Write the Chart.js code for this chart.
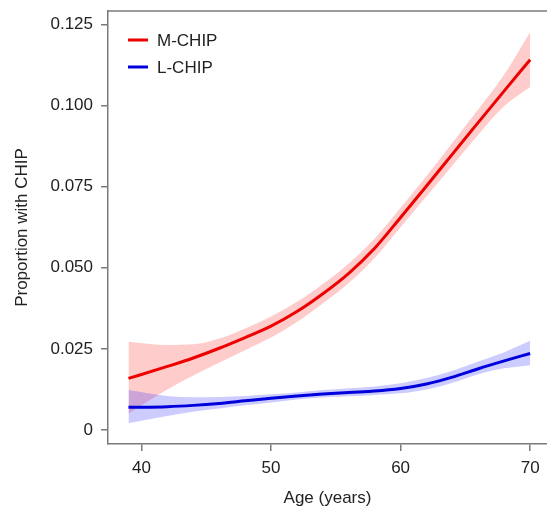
<!DOCTYPE html>
<html>
<head>
<meta charset="utf-8">
<script src="https://cdn.jsdelivr.net/npm/chart.js@4.4.0/dist/chart.umd.min.js"></script>
<style>
html, body { margin: 0; padding: 0; background: #fff; overflow: hidden; }
canvas { display: block; }
</style>
</head>
<body>
<canvas id="chipChart" width="547" height="509"></canvas>
<script>
var ages = [39, 42, 44, 46, 48, 50, 52, 54, 56, 58, 60, 62, 64, 66, 68, 70];

var mChip      = [0.0159, 0.0196, 0.0222, 0.0252, 0.0285, 0.0320, 0.0365, 0.0420, 0.0483, 0.0560, 0.0655, 0.0752, 0.0850, 0.0948, 0.1045, 0.1141];
var mChipUpper = [0.0272, 0.0262, 0.0264, 0.0282, 0.0313, 0.0350, 0.0395, 0.0450, 0.0513, 0.0590, 0.0685, 0.0783, 0.0885, 0.0988, 0.1095, 0.1226];
var mChipLower = [0.0051, 0.0125, 0.0168, 0.0207, 0.0246, 0.0285, 0.0333, 0.0390, 0.0453, 0.0530, 0.0625, 0.0720, 0.0815, 0.0910, 0.0998, 0.1057];

var lChip      = [0.0070, 0.0072, 0.0076, 0.0082, 0.0090, 0.0098, 0.0105, 0.0111, 0.0116, 0.0120, 0.0128, 0.0142, 0.0163, 0.0189, 0.0213, 0.0236];
var lChipUpper = [0.0123, 0.0105, 0.0101, 0.0102, 0.0105, 0.0110, 0.0116, 0.0123, 0.0129, 0.0134, 0.0144, 0.0160, 0.0183, 0.0211, 0.0240, 0.0275];
var lChipLower = [0.0021, 0.0043, 0.0056, 0.0066, 0.0076, 0.0085, 0.0094, 0.0100, 0.0104, 0.0108, 0.0113, 0.0125, 0.0146, 0.0172, 0.0190, 0.0200];

var xTicks = [40, 50, 60, 70];
var yTicks = [0, 0.025, 0.05, 0.075, 0.1, 0.125];
var seriesNames = ['M-CHIP', 'L-CHIP'];

var red = '#ee0000';
var blue = '#0000dd';
var axisGrey = '#7a7a7a';

Chart.defaults.font.family = "'Liberation Sans', Arial, sans-serif";
Chart.defaults.font.size = 17;
Chart.defaults.color = '#222';

function points(values) {
	return values.map(function (v, i) { return { x: ages[i], y: v }; });
}

function bandSet(values, fillTo, colour, order) {
	return {
		data: points(values),
		borderWidth: 0,
		pointRadius: 0,
		backgroundColor: colour,
		fill: fillTo,
		cubicInterpolationMode: 'monotone',
		order: order
	};
}

// top edge of the box and the legend in the top-left corner
var boxAndLegend = {
	id: 'boxAndLegend',
	afterDraw: function (chart) {
		var ctx = chart.ctx, area = chart.chartArea;
		ctx.save();
		ctx.strokeStyle = axisGrey;
		ctx.lineWidth = 1.5;
		ctx.beginPath();
		ctx.moveTo(area.left, area.top);
		ctx.lineTo(area.right, area.top);
		ctx.stroke();

		ctx.font = "17px 'Liberation Sans', Arial, sans-serif";
		ctx.textBaseline = 'middle';
		ctx.fillStyle = '#222';
		seriesNames.forEach(function (name, i) {
			var y = area.top + 29 + i * 27;
			ctx.strokeStyle = chart.data.datasets[i].borderColor;
			ctx.lineWidth = 3;
			ctx.beginPath();
			ctx.moveTo(area.left + 20, y);
			ctx.lineTo(area.left + 40, y);
			ctx.stroke();
			ctx.fillText(name, area.left + 49, y + 1);
		});
		ctx.restore();
	}
};

function noScalePadding(scale) {
	scale.paddingTop = 0;
	scale.paddingBottom = 0;
	scale.paddingLeft = 0;
	scale.paddingRight = 0;
}

var ctx = document.getElementById('chipChart').getContext('2d');
var chipChart = new Chart(ctx, {
	type: 'line',
	data: {
		datasets: [
			{ label: seriesNames[0], data: points(mChip), borderColor: red, borderWidth: 3, pointRadius: 0, fill: false, cubicInterpolationMode: 'monotone', order: 1 },
			{ label: seriesNames[1], data: points(lChip), borderColor: blue, borderWidth: 3, pointRadius: 0, fill: false, cubicInterpolationMode: 'monotone', order: 2 },
			bandSet(mChipUpper, 3, 'rgba(255, 0, 0, 0.2)', 4),
			bandSet(mChipLower, false, 'transparent', 5),
			bandSet(lChipUpper, 5, 'rgba(0, 0, 255, 0.2)', 3),
			bandSet(lChipLower, false, 'transparent', 3)
		]
	},
	options: {
		responsive: false,
		animation: false,
		layout: { padding: { top: 11, left: 0, right: 0, bottom: 0 } },
		plugins: {
			legend: { display: false },
			tooltip: { enabled: false }
		},
		scales: {
			x: {
				type: 'linear',
				min: 37.42,
				max: 71.3,
				afterBuildTicks: function (scale) {
					scale.ticks = xTicks.map(function (v) { return { value: v }; });
				},
				afterFit: function (scale) { scale.height = 65; noScalePadding(scale); },
				ticks: { padding: 7, maxRotation: 0 },
				grid: { drawOnChartArea: false, tickLength: 7, color: axisGrey, lineWidth: 1.5 },
				border: { display: true, color: axisGrey, width: 1.5 },
				title: { display: true, text: 'Age (years)', padding: { top: 0, bottom: 0 } }
			},
			y: {
				min: -0.0043,
				max: 0.1291,
				afterBuildTicks: function (scale) {
					scale.ticks = yTicks.map(function (v) { return { value: v }; });
				},
				afterFit: function (scale) { scale.width = 108; noScalePadding(scale); },
				ticks: {
					padding: 8,
					callback: function (v) { return v === 0 ? '0' : v.toFixed(3); }
				},
				grid: { drawOnChartArea: false, tickLength: 7, color: axisGrey, lineWidth: 1.5 },
				border: { display: true, color: axisGrey, width: 1.5 },
				title: { display: true, text: 'Proportion with CHIP', padding: { top: 12, bottom: 0 } }
			}
		}
	},
	plugins: [boxAndLegend]
});
</script>
</body>
</html>
